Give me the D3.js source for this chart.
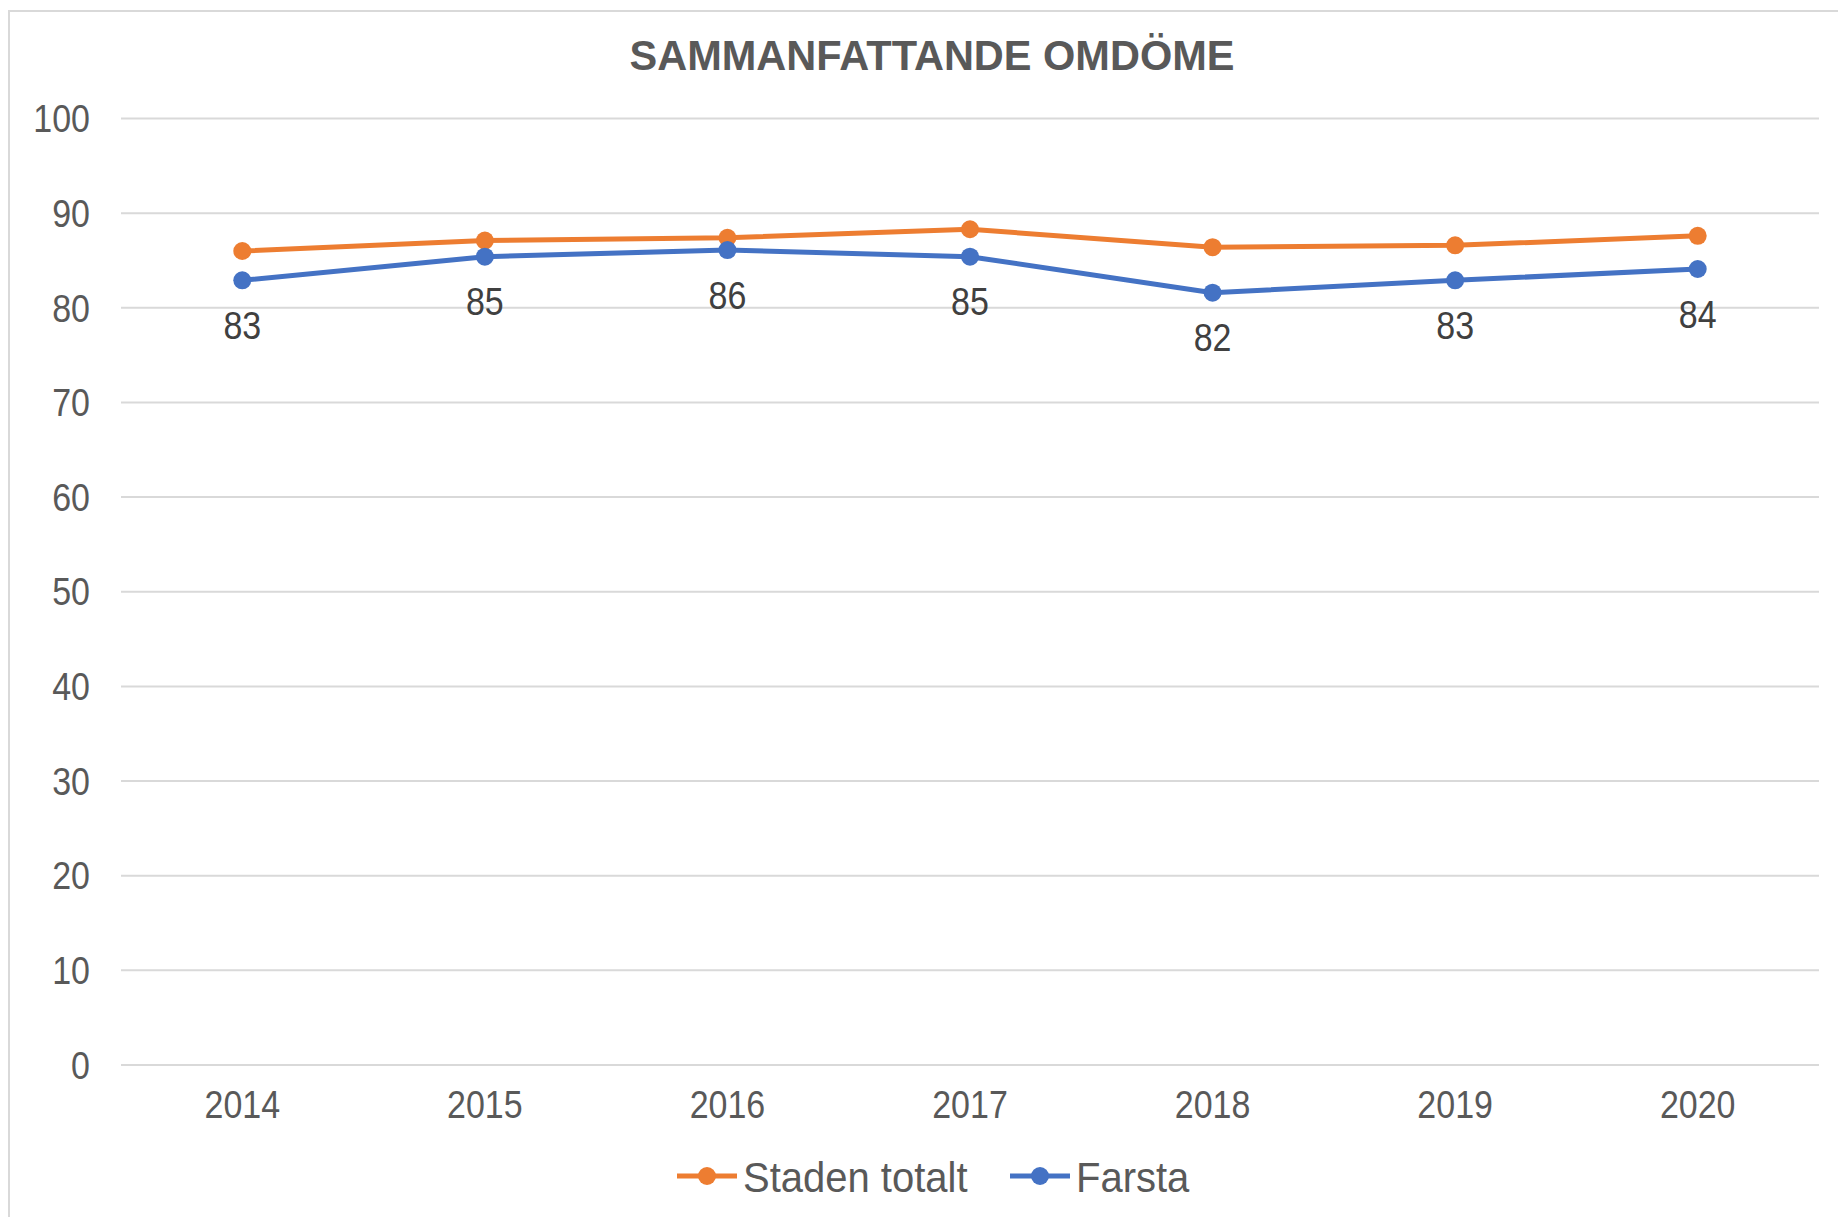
<!DOCTYPE html>
<html>
<head>
<meta charset="utf-8">
<script src="https://cdn.jsdelivr.net/npm/d3@7"></script>
<style>
	body { margin: 0; background: #fff; }
	svg { display: block; font-family: 'Liberation Sans', Arial, sans-serif; }
</style>
</head>
<body>
<div data-chart></div>
<script>
const years = ['2014', '2015', '2016', '2017', '2018', '2019', '2020']
const stadenTotalt = [86.0, 87.1, 87.4, 88.3, 86.4, 86.6, 87.6]
const farsta = [82.9, 85.4, 86.1, 85.4, 81.6, 82.9, 84.1]
const yTicks = [0, 10, 20, 30, 40, 50, 60, 70, 80, 90, 100]

const seriesNames = ['Staden totalt', 'Farsta']
const seriesColors = ['#ED7D31', '#4472C4']

const dimensions = {
	width: 1838,
	height: 1217,
	left: 121,
	right: 1819,
	top: 118.5,
	bottom: 1065
}

const textColor = '#595959'

// text in the original looks a little stretched vertically
const tall = (sel, x, y) => sel.attr('transform', `translate(${x}, ${y}) scale(1, 1.12)`)

const svg = d3.select('[data-chart]')
	.append('svg')
	.attr('width', dimensions.width)
	.attr('height', dimensions.height)

/* Frame */
svg.append('rect')
	.attr('x', 9)
	.attr('y', 11)
	.attr('width', dimensions.width)
	.attr('height', dimensions.height)
	.attr('fill', '#fff')
	.attr('stroke', '#d9d9d9')
	.attr('stroke-width', 2)

/* Title */
svg.append('text')
	.attr('x', 932)
	.attr('y', 70)
	.attr('text-anchor', 'middle')
	.attr('font-size', 42)
	.attr('font-weight', 'bold')
	.attr('fill', textColor)
	.attr('textLength', 605)
	.attr('lengthAdjust', 'spacingAndGlyphs')
	.text('SAMMANFATTANDE OMDÖME')

const xScale = d3.scaleBand()
	.domain(years)
	.range([dimensions.left, dimensions.right])

const yScale = d3.scaleLinear()
	.domain([0, 100])
	.range([dimensions.bottom, dimensions.top])

const xPos = (i) => xScale(years[i]) + xScale.bandwidth() / 2

/* Gridlines */
svg.append('g')
	.selectAll('line')
	.data(yTicks)
	.join('line')
	.attr('x1', dimensions.left)
	.attr('x2', dimensions.right)
	.attr('y1', (d) => yScale(d))
	.attr('y2', (d) => yScale(d))
	.attr('stroke', '#d9d9d9')
	.attr('stroke-width', 2)

/* Y axis labels */
svg.append('g')
	.selectAll('text')
	.data(yTicks)
	.join('text')
	.each(function (d) { tall(d3.select(this), 90, yScale(d)) })
	.attr('dy', '0.36em')
	.attr('text-anchor', 'end')
	.attr('font-size', 34)
	.attr('fill', textColor)
	.text((d) => d)

/* X axis labels */
svg.append('g')
	.selectAll('text')
	.data(years)
	.join('text')
	.each(function (d) { tall(d3.select(this), xScale(d) + xScale.bandwidth() / 2, 1104) })
	.attr('dy', '0.36em')
	.attr('text-anchor', 'middle')
	.attr('font-size', 34)
	.attr('fill', textColor)
	.text((d) => d)

/* Lines */
const lineGenerator = d3.line()
	.x((d, i) => xPos(i))
	.y((d) => yScale(d))

const allSeries = [stadenTotalt, farsta]

allSeries.forEach((values, s) => {
	const g = svg.append('g')

	g.append('path')
		.datum(values)
		.attr('d', lineGenerator)
		.attr('fill', 'none')
		.attr('stroke', seriesColors[s])
		.attr('stroke-width', 5)
		.attr('stroke-linejoin', 'round')

	g.selectAll('circle')
		.data(values)
		.join('circle')
		.attr('cx', (d, i) => xPos(i))
		.attr('cy', (d) => yScale(d))
		.attr('r', 9)
		.attr('fill', seriesColors[s])
})

/* Data labels for Farsta */
svg.append('g')
	.selectAll('text')
	.data(farsta)
	.join('text')
	.each(function (d, i) { tall(d3.select(this), xPos(i), yScale(d) + 45) })
	.attr('dy', '0.36em')
	.attr('text-anchor', 'middle')
	.attr('font-size', 34)
	.attr('fill', '#404040')
	.text((d) => Math.round(d))

/* Legend */
const legendItems = [
	{ name: seriesNames[0], color: seriesColors[0], x: 677 },
	{ name: seriesNames[1], color: seriesColors[1], x: 1010 }
]

const legendY = 1176

const legend = svg.append('g')
	.selectAll('g')
	.data(legendItems)
	.join('g')
	.attr('transform', (d) => `translate(${d.x}, ${legendY})`)

legend.append('line')
	.attr('x1', 0)
	.attr('x2', 60)
	.attr('stroke', (d) => d.color)
	.attr('stroke-width', 5)

legend.append('circle')
	.attr('cx', 30)
	.attr('r', 9)
	.attr('fill', (d) => d.color)

legend.append('text')
	.attr('x', 66)
	.attr('dy', '0.36em')
	.attr('font-size', 40)
	.attr('fill', textColor)
	.attr('transform', 'scale(1, 1.08)')
	.text((d) => d.name)
</script>
</body>
</html>
